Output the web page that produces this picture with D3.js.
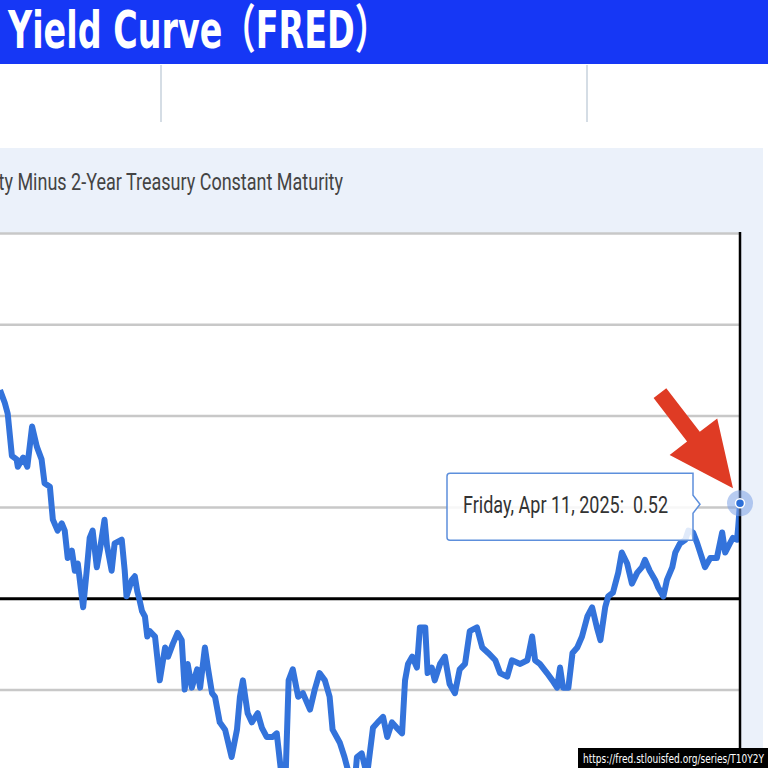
<!DOCTYPE html>
<html>
<head>
<meta charset="utf-8">
<title>Yield Curve (FRED)</title>
<script src="https://cdnjs.cloudflare.com/ajax/libs/d3/7.8.5/d3.min.js"></script>
<style>
  body{margin:0;background:#fff;}
  svg{display:block;}
</style>
</head>
<body>
<div id="chart"></div>
<script>
// 10Y minus 2Y spread (percent)
var dates = ["2021-11-12","2021-11-20","2021-11-25","2021-12-02","2021-12-10","2021-12-12","2021-12-21","2021-12-28",
  "2022-01-05","2022-01-13","2022-01-21","2022-01-26","2022-02-04","2022-02-09","2022-02-17","2022-02-24",
  "2022-03-01","2022-03-06","2022-03-13","2022-03-18","2022-03-23","2022-04-01","2022-04-07","2022-04-12",
  "2022-04-17","2022-04-24","2022-04-29","2022-05-07","2022-05-11","2022-05-19","2022-05-24","2022-06-05",
  "2022-06-10","2022-06-13","2022-06-22","2022-06-27","2022-07-01","2022-07-05","2022-07-09","2022-07-14",
  "2022-07-18","2022-07-22","2022-07-31","2022-08-08","2022-08-17","2022-08-22","2022-08-30","2022-09-07",
  "2022-09-14","2022-09-19","2022-09-24","2022-10-01","2022-10-10","2022-10-15","2022-10-23","2022-10-28",
  "2022-11-04","2022-11-09","2022-11-17","2022-11-26","2022-12-07","2022-12-16","2022-12-21","2022-12-26",
  "2022-12-29","2023-01-03","2023-01-10","2023-01-20","2023-01-27","2023-02-04","2023-02-14","2023-02-21",
  "2023-03-02","2023-03-07","2023-03-13","2023-03-20","2023-03-29","2023-04-06","2023-04-18","2023-04-26",
  "2023-05-04","2023-05-13","2023-05-21","2023-05-26","2023-06-07","2023-06-15","2023-06-24","2023-07-01",
  "2023-07-06","2023-07-14","2023-07-23","2023-08-02","2023-08-10","2023-08-19","2023-08-26","2023-09-03",
  "2023-09-11","2023-09-20","2023-09-25","2023-09-30","2023-10-07","2023-10-15","2023-10-20","2023-10-29",
  "2023-11-02","2023-11-09","2023-11-14","2023-11-23","2023-12-01","2023-12-09","2023-12-18","2023-12-26",
  "2024-01-04","2024-01-12","2024-01-24","2024-02-02","2024-02-12","2024-02-24","2024-03-03","2024-03-15",
  "2024-03-23","2024-04-06","2024-04-18","2024-04-26","2024-05-01","2024-05-09","2024-05-21","2024-05-30",
  "2024-06-07","2024-06-12","2024-06-17","2024-06-26","2024-07-03","2024-07-11","2024-07-19","2024-07-28",
  "2024-08-05","2024-08-13","2024-08-19","2024-08-27","2024-09-01","2024-09-09","2024-09-18","2024-09-24",
  "2024-10-03","2024-10-11","2024-10-20","2024-10-28","2024-11-02","2024-11-10","2024-11-19","2024-11-24",
  "2024-12-03","2024-12-09","2024-12-18","2024-12-23","2024-12-31","2025-01-09","2025-01-14","2025-01-22",
  "2025-01-29","2025-02-06","2025-02-11","2025-02-20","2025-03-03","2025-03-12","2025-03-17","2025-03-25",
  "2025-03-30","2025-04-06","2025-04-08","2025-04-11"];
var values = [1.14,1.07,1.01,0.78,0.76,0.72,0.77,0.72,
  0.94,0.83,0.76,0.63,0.61,0.43,0.37,0.41,
  0.37,0.22,0.26,0.15,0.19,-0.05,0.15,0.33,
  0.37,0.17,0.26,0.43,0.29,0.15,0.30,0.32,
  0.15,0.01,0.10,0.12,0.04,-0.01,-0.07,-0.10,
  -0.21,-0.18,-0.21,-0.45,-0.27,-0.32,-0.25,-0.19,
  -0.23,-0.50,-0.36,-0.49,-0.39,-0.49,-0.27,-0.38,
  -0.52,-0.54,-0.68,-0.72,-0.87,-0.72,-0.54,-0.45,
  -0.52,-0.63,-0.68,-0.63,-0.71,-0.76,-0.76,-0.74,
  -1.00,-1.07,-0.45,-0.39,-0.54,-0.52,-0.61,-0.50,
  -0.41,-0.45,-0.54,-0.72,-0.79,-0.87,-0.98,-1.06,
  -0.87,-0.85,-0.97,-0.71,-0.68,-0.65,-0.76,-0.68,
  -0.71,-0.74,-0.45,-0.36,-0.32,-0.38,-0.16,-0.16,
  -0.41,-0.38,-0.45,-0.36,-0.32,-0.47,-0.52,-0.39,
  -0.36,-0.18,-0.16,-0.27,-0.30,-0.34,-0.41,-0.43,
  -0.34,-0.36,-0.34,-0.21,-0.34,-0.36,-0.41,-0.45,
  -0.49,-0.38,-0.49,-0.49,-0.30,-0.27,-0.21,-0.10,
  -0.05,-0.16,-0.23,-0.05,0.01,0.03,0.14,0.25,
  0.19,0.08,0.14,0.17,0.21,0.15,0.10,0.06,
  0.01,0.10,0.17,0.25,0.30,0.32,0.37,0.36,
  0.30,0.22,0.17,0.22,0.22,0.36,0.25,0.30,
  0.33,0.32,0.39,0.52];
var yTicks = [-0.5, 0, 0.5, 1, 1.5, 2];
var bannerTitle = "Yield Curve（FRED）";
var seriesTitle = "10-Year Treasury Constant Maturity Minus 2-Year Treasury Constant Maturity";
var sourceUrl = "https://fred.stlouisfed.org/series/T10Y2Y";

var width = 768, height = 768;
var plot = {left: 0, right: 740, top: 233, bottom: 768};

var parse = d3.timeParse("%Y-%m-%d");
var data = dates.map(function(d, i){ return {date: parse(d), value: values[i]}; });
var last = data[data.length - 1];

var x = d3.scaleTime()
  .domain([data[0].date, last.date])
  .range([plot.left, plot.right]);
// zero sits at y=598, one gridline every 0.5
var y = d3.scaleLinear()
  .domain([-0.93, 2])
  .range([plot.bottom, plot.top]);

var svg = d3.select("#chart").append("svg")
  .attr("width", width)
  .attr("height", height);

// blue banner
svg.append("rect").attr("width", width).attr("height", 64).attr("fill", "#1637f5");
svg.append("text")
  .attr("x", 8).attr("y", 48)
  .attr("fill", "#fff")
  .attr("textLength", 380).attr("lengthAdjust", "spacingAndGlyphs")
  .style("font", "bold 52px 'DejaVu Sans', 'Noto Sans CJK JP', sans-serif")
  .text(bannerTitle);

// page dividers under the banner
svg.selectAll(".divider")
  .data([161, 587])
  .enter().append("line")
  .attr("x1", function(d){ return d; }).attr("x2", function(d){ return d; })
  .attr("y1", 65).attr("y2", 122)
  .attr("stroke", "#d5dde5").attr("stroke-width", 2);

// light panel around the graph
svg.append("rect")
  .attr("x", 0).attr("y", 148)
  .attr("width", 763).attr("height", height - 148)
  .attr("fill", "#ebf1fa");

svg.append("g")
  .attr("transform", "translate(343,190) scale(0.75,1)")
  .append("text")
  .attr("text-anchor", "end")
  .attr("fill", "#444")
  .style("font", "24px Roboto, sans-serif")
  .text(seriesTitle);

// plot area
svg.append("rect")
  .attr("x", plot.left).attr("y", plot.top)
  .attr("width", plot.right - plot.left).attr("height", plot.bottom - plot.top)
  .attr("fill", "#fff");

var grid = svg.append("g")
  .call(d3.axisLeft(y).tickValues(yTicks).tickSize(-(plot.right - plot.left)).tickFormat(""));
grid.select(".domain").remove();
grid.selectAll(".tick line")
  .attr("stroke", function(d){ return d === 0 ? "#000" : "#c8c8c8"; })
  .attr("stroke-width", function(d){ return d === 0 ? 3 : 2.5; });

svg.append("clipPath").attr("id", "clip")
  .append("rect")
  .attr("x", plot.left).attr("y", plot.top)
  .attr("width", plot.right - plot.left + 1).attr("height", plot.bottom - plot.top);

var line = d3.line()
  .x(function(d){ return x(d.date); })
  .y(function(d){ return y(d.value); });

svg.append("path")
  .datum(data)
  .attr("clip-path", "url(#clip)")
  .attr("d", line)
  .attr("fill", "none")
  .attr("stroke", "#3373db")
  .attr("stroke-width", 6)
  .attr("stroke-linejoin", "round");

// right edge of graph
svg.append("line")
  .attr("x1", plot.right).attr("x2", plot.right)
  .attr("y1", plot.top - 1).attr("y2", plot.bottom)
  .attr("stroke", "#000").attr("stroke-width", 2.5);

// tooltip for the last observation
var px = x(last.date), py = y(last.value);
var tip = svg.append("g").attr("transform", "translate(" + (px - 293) + "," + (py - 30) + ")");
tip.append("path")
  .attr("d", "M0,3 Q0,0 3,0 L246,0 L246,22 L253,31 L246,40 L246,67 L3,67 Q0,67 0,64 Z")
  .attr("fill", "#fff").attr("fill-opacity", 0.85)
  .attr("stroke", "#5d8fdc").attr("stroke-width", 1.5);
var tipText = tip.append("text")
  .attr("x", 16).attr("y", 40)
  .attr("fill", "#333")
  .attr("textLength", 205).attr("lengthAdjust", "spacingAndGlyphs")
  .attr("xml:space", "preserve")
  .style("font", "24px Roboto, sans-serif");
tipText.append("tspan").text(d3.timeFormat("%A, %b %d, %Y")(last.date) + ":  ");
tipText.append("tspan").text(last.value.toFixed(2));

// highlighted point
svg.append("circle")
  .attr("cx", px).attr("cy", py).attr("r", 13)
  .attr("fill", "#7ea3e6").attr("fill-opacity", 0.55);
svg.append("circle")
  .attr("cx", px).attr("cy", py).attr("r", 4.5)
  .attr("fill", "#2d6fd8").attr("stroke", "#fff").attr("stroke-width", 1.5);

// red arrow pointing at the last value
var tipX = px - 7, tipY = py - 15;
svg.append("polygon")
  .attr("transform", "translate(" + tipX + "," + tipY + ") rotate(52.5)")
  .attr("points", "-120,-8 -65,-8 -65,-30 0,0 -65,30 -65,8 -120,8")
  .attr("fill", "#df3b24");

// source label
svg.append("rect")
  .attr("x", 578).attr("y", 748)
  .attr("width", 190).attr("height", 20)
  .attr("fill", "#000");
svg.append("text")
  .attr("x", 583).attr("y", 763)
  .attr("fill", "#fff")
  .attr("textLength", 181).attr("lengthAdjust", "spacingAndGlyphs")
  .style("font", "13px 'DejaVu Sans', sans-serif")
  .text(sourceUrl);
</script>
</body>
</html>
